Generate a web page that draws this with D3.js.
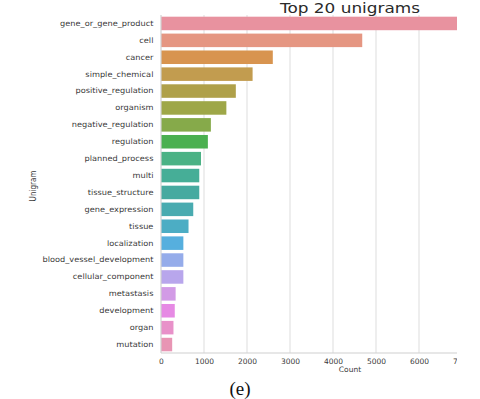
<!DOCTYPE html>
<html>
<head>
<meta charset="utf-8">
<script src="https://cdn.jsdelivr.net/npm/d3@7"></script>
<style>
  body { margin: 0; background: #fff; }
</style>
</head>
<body>
<div id="chart"></div>
<script>
// data
let unigrams = ["gene_or_gene_product", "cell", "cancer", "simple_chemical", "positive_regulation",
  "organism", "negative_regulation", "regulation", "planned_process", "multi", "tissue_structure",
  "gene_expression", "tissue", "localization", "blood_vessel_development", "cellular_component",
  "metastasis", "development", "organ", "mutation"];
let counts = [6950, 4680, 2600, 2130, 1740, 1520, 1160, 1090, 930, 890, 890,
  750, 640, 520, 520, 520, 340, 320, 290, 260];
let xTicks = [0, 1000, 2000, 3000, 4000, 5000, 6000, 7000];
let barColors = ["#e8929f", "#e59682", "#d8944f", "#c29c4f", "#afa049", "#9ea748", "#86aa4a",
  "#4bb050", "#4bb285", "#46ae97", "#46aaa0", "#49abb0", "#4cadc4", "#56afde", "#95acea",
  "#b8a6ec", "#d29be6", "#e68ae4", "#e891c9", "#e895b4"];

let svgWidth = 480;
let svgHeight = 399;

let margin = { top: 15, left: 161, bottom: 353 };

let svg = d3.select("#chart")
  .append("svg")
  .attr("width", svgWidth)
  .attr("height", svgHeight)
  .style("font-family", "DejaVu Sans, sans-serif");

// the source image is cropped on the right
svg.append("clipPath").attr("id", "crop")
  .append("rect").attr("x", 0).attr("y", 0).attr("width", 457).attr("height", svgHeight);

let g = svg.append("g").attr("clip-path", "url(#crop)");

let xScale = d3.scaleLinear()
  .domain([0, 7000])
  .range([margin.left, 462]);

let yScale = d3.scaleBand()
  .domain(unigrams)
  .range([margin.top, margin.bottom])
  .paddingInner(0.2)
  .paddingOuter(0.1);

// grid lines
g.append("g")
  .selectAll("line")
  .data(xTicks.slice(1))
  .enter()
  .append("line")
  .attr("x1", d => xScale(d))
  .attr("x2", d => xScale(d))
  .attr("y1", margin.top)
  .attr("y2", margin.bottom)
  .attr("stroke", "#e3e3e3")
  .attr("stroke-width", 1.2);

// bars
g.append("g")
  .selectAll("rect")
  .data(unigrams)
  .enter()
  .append("rect")
  .attr("x", xScale(0))
  .attr("y", d => yScale(d))
  .attr("width", (d, i) => xScale(counts[i]) - xScale(0))
  .attr("height", yScale.bandwidth())
  .attr("fill", (d, i) => barColors[i]);

// spines
g.append("line")
  .attr("x1", margin.left).attr("x2", margin.left)
  .attr("y1", margin.top).attr("y2", margin.bottom)
  .attr("stroke", "#d0d0d0").attr("stroke-width", 1.2);
g.append("line")
  .attr("x1", margin.left).attr("x2", 470)
  .attr("y1", margin.bottom).attr("y2", margin.bottom)
  .attr("stroke", "#d0d0d0").attr("stroke-width", 1.2);

// x axis
let bottomAxis = d3.axisBottom(xScale)
  .tickValues(xTicks)
  .tickFormat(d3.format("d"))
  .tickSize(0)
  .tickPadding(6);
let xAxisG = g.append("g")
  .attr("transform", `translate(0, ${margin.bottom})`)
  .call(bottomAxis);
xAxisG.select(".domain").remove();
xAxisG.selectAll("text")
  .style("font-family", "DejaVu Sans, sans-serif")
  .style("font-size", "7.5px")
  .attr("fill", "#3a3a3a");

// y axis
let leftAxis = d3.axisLeft(yScale).tickSize(0).tickPadding(7);
let yAxisG = svg.append("g")
  .attr("transform", `translate(${margin.left}, 0)`)
  .call(leftAxis);
yAxisG.select(".domain").remove();
let yLabels = yAxisG.selectAll("text")
  .style("font-family", "DejaVu Sans, sans-serif")
  .style("font-size", "7.6px")
  .attr("fill", "#3a3a3a");

// the labels in the picture look a bit stretched sideways
let widest = d3.max(yLabels.nodes(), n => n.getComputedTextLength());
let stretch = 111 / widest;
yLabels.attr("transform", `scale(${stretch}, 1)`);

// axis labels
svg.append("text")
  .attr("x", 350)
  .attr("y", 372)
  .attr("text-anchor", "middle")
  .style("font-size", "7.5px")
  .attr("fill", "#3a3a3a")
  .text("Count");

svg.append("text")
  .attr("transform", "rotate(-90)")
  .attr("x", -186)
  .attr("y", 36)
  .attr("text-anchor", "middle")
  .style("font-family", "'Liberation Sans Narrow', 'DejaVu Sans Condensed', sans-serif")
  .style("font-size", "8px")
  .attr("fill", "#3a3a3a")
  .text("Unigram");

// title
svg.append("text")
  .attr("x", 280)
  .attr("y", 13)
  .attr("textLength", 140)
  .attr("lengthAdjust", "spacingAndGlyphs")
  .style("font-size", "13.5px")
  .attr("fill", "#2a2a2a")
  .text("Top 20 unigrams");

// caption
svg.append("text")
  .attr("x", 240)
  .attr("y", 395)
  .attr("text-anchor", "middle")
  .style("font-family", "'Liberation Serif', serif")
  .style("font-size", "19px")
  .attr("fill", "#111")
  .text("(e)");
</script>
</body>
</html>
